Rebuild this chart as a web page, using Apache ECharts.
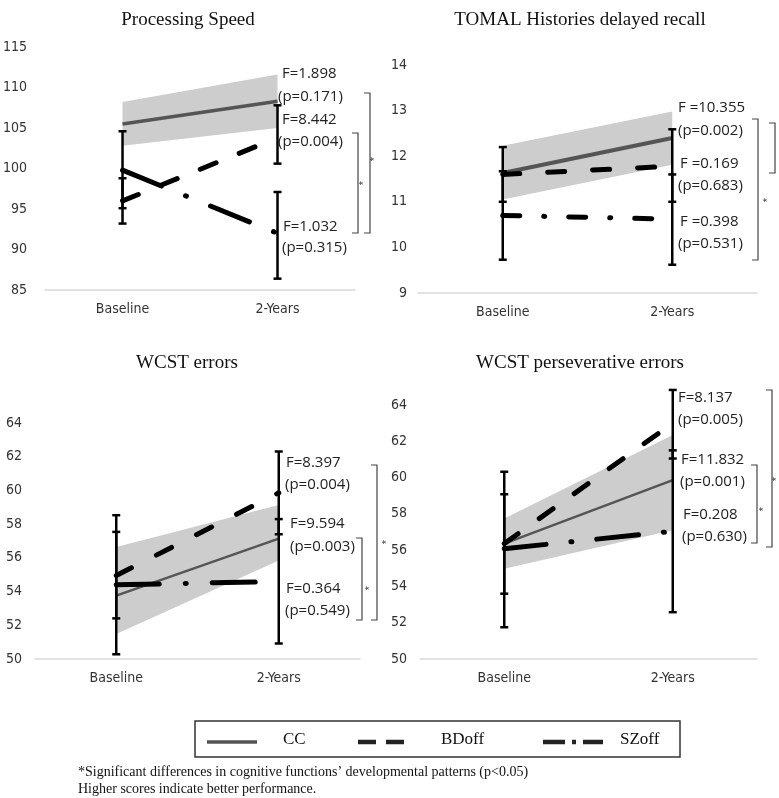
<!DOCTYPE html>
<html lang="en">

<head>
    <meta charset="UTF-8">
    <title>Cognitive functions</title>
    <style>
        * {
            margin: 0;
            padding: 0;
        }

        html,
        body {
            width: 779px;
            height: 798px;
            background: #fff;
        }

        #main {
            width: 779px;
            height: 798px;
        }
    </style>
</head>

<body>
    <div id="main"></div>
</body>
<script src="https://cdn.jsdelivr.net/npm/echarts@6/dist/echarts.min.js"></script>
<script>
    // categories
    const categories = ['Baseline', '2-Years']

    // Processing Speed
    const speedCC = [105.5, 108.3]
    const speedBandLow = [102.8, 105.0]
    const speedBandHigh = [108.2, 111.6]
    const speedBD = [96.0, 103.8]
    const speedBDErr = [[93.2, 98.8], [100.6, 107.8]]
    const speedSZ = [99.8, 92.0]
    const speedSZErr = [[95.1, 104.6], [86.4, 97.1]]
    const speedStats = ['F=1.898', '(p=0.171)', 'F=8.442', '(p=0.004)', 'F=1.032', '(p=0.315)']

    // TOMAL Histories delayed recall
    const tomalCC = [11.63, 12.4]
    const tomalBandLow = [11.05, 11.81]
    const tomalBandHigh = [12.23, 12.98]
    const tomalBD = [11.6, 11.78]
    const tomalBDErr = [[11.0, 12.2], [11.0, 12.59]]
    const tomalSZ = [10.7, 10.62]
    const tomalSZErr = [[9.73, 11.67], [9.62, 11.6]]
    const tomalStats = ['F =10.355', '(p=0.002)', 'F =0.169', '(p=0.683)', 'F =0.398', '(p=0.531)']

    // WCST errors
    const wcstCC = [53.76, 57.14]
    const wcstBandLow = [51.48, 55.85]
    const wcstBandHigh = [56.64, 59.13]
    const wcstBD = [54.95, 59.86]
    const wcstBDErr = [[52.41, 57.54], [57.4, 62.31]]
    const wcstSZ = [54.4, 54.6]
    const wcstSZErr = [[50.28, 58.53], [50.92, 58.3]]
    const wcstStats = ['F=8.397', '(p=0.004)', 'F=9.594', '(p=0.003)', 'F=0.364', '(p=0.549)']

    // WCST perseverative errors
    const persCC = [56.36, 59.86]
    const persBandLow = [54.98, 57.1]
    const persBandHigh = [57.74, 62.34]
    const persBD = [56.36, 63.0]
    const persBDErr = [[53.6, 59.08], [61.05, 64.83]]
    const persSZ = [56.08, 57.04]
    const persSZErr = [[51.75, 60.32], [52.58, 61.5]]
    const persStats = ['F=8.137', '(p=0.005)', 'F=11.832', '(p=0.001)', 'F=0.208', '(p=0.630)']

    const legendNames = ['CC', 'BDoff', 'SZoff']
    const footnotes = [
        '*Significant differences in cognitive functions\u2019 developmental patterns (p<0.05)',
        'Higher scores indicate better performance.'
    ]

    const axisFont = '"DejaVu Sans Condensed", "Liberation Sans", sans-serif'

    const panels = [{
        title: 'Processing Speed', tx: 188, ty: 20,
        grid: { left: 40, right: 424, top: 47, bottom: 508 },
        yMin: 85, yMax: 115, step: 5, labelMargin: 18,
        cc: speedCC, lo: speedBandLow, hi: speedBandHigh,
        bd: speedBD, bdErr: speedBDErr, sz: speedSZ, szErr: speedSZErr,
        ccWidth: 3.5, bdDash: [17, 25], szDash: [42, 26, 1, 26],
        stats: speedStats,
        statPos: [[282, 74], [278, 97], [282, 120], [278, 142], [283, 227], [282, 248]],
        brackets: [[370, 93, 233], [358, 133, 233]],
        stars: [[375, 159], [364, 183]]
    }, {
        title: 'TOMAL Histories delayed recall', tx: 580, ty: 20,
        grid: { left: 418, right: 22, top: 65, bottom: 505 },
        yMin: 9, yMax: 14, step: 1, labelMargin: 11,
        cc: tomalCC, lo: tomalBandLow, hi: tomalBandHigh,
        bd: tomalBD, bdErr: tomalBDErr, sz: tomalSZ, szErr: tomalSZErr,
        ccWidth: 4, bdDash: [17, 28], szDash: [17, 24, 1, 24],
        stats: tomalStats,
        statPos: [[678, 108], [678, 131], [680, 164], [678, 186], [680, 222], [678, 244]],
        brackets: [[758, 119, 260], [775, 123, 173]],
        stars: [[768, 200]]
    }, {
        title: 'WCST errors', tx: 187, ty: 363,
        grid: { left: 35, right: 419, top: 423, bottom: 139 },
        yMin: 50, yMax: 64, step: 2, labelMargin: 13,
        cc: wcstCC, lo: wcstBandLow, hi: wcstBandHigh,
        bd: wcstBD, bdErr: wcstBDErr, sz: wcstSZ, szErr: wcstSZErr,
        ccWidth: 2.5, bdDash: [17, 28], szDash: [43, 26, 1, 26],
        stats: wcstStats,
        statPos: [[286, 463], [285, 485], [290, 524], [290, 547], [286, 589], [285, 611]],
        brackets: [[362, 538, 620], [377, 465, 620]],
        stars: [[370, 588], [387, 542]]
    }, {
        title: 'WCST perseverative errors', tx: 580, ty: 363,
        grid: { left: 420, right: 22, top: 405, bottom: 139 },
        yMin: 50, yMax: 64, step: 2, labelMargin: 13,
        cc: persCC, lo: persBandLow, hi: persBandHigh,
        bd: persBD, bdErr: persBDErr, sz: persSZ, szErr: persSZErr,
        ccWidth: 2.5, bdDash: [17, 26], szDash: [42, 25, 1, 25],
        stats: persStats,
        statPos: [[678, 398], [678, 420], [681, 460], [680, 482], [683, 515], [682, 537]],
        brackets: [[757, 465, 543], [772, 390, 547]],
        stars: [[764, 509], [777, 479]]
    }]

    // grey confidence band between the two categories
    function bandItem(params, api) {
        if (params.dataIndexInside !== 0) return { type: 'group', children: [] }
        const pts = []
        for (let k = 0; k < 2; k++) pts.push(api.coord([api.value(0, k), api.value(2, k)]))
        for (let k = 1; k >= 0; k--) pts.push(api.coord([api.value(0, k), api.value(1, k)]))
        return { type: 'polygon', shape: { points: pts }, style: { fill: '#cdcdcd' } }
    }

    // vertical error bar with caps
    function errItem(params, api) {
        const top = api.coord([api.value(0), api.value(2)])
        const bot = api.coord([api.value(0), api.value(1)])
        const w = 4
        const st = { stroke: '#000', lineWidth: 2.5 }
        return {
            type: 'group',
            children: [
                { type: 'line', shape: { x1: top[0], y1: top[1], x2: bot[0], y2: bot[1] }, style: st },
                { type: 'line', shape: { x1: top[0] - w, y1: top[1], x2: top[0] + w, y2: top[1] }, style: st },
                { type: 'line', shape: { x1: bot[0] - w, y1: bot[1], x2: bot[0] + w, y2: bot[1] }, style: st }
            ]
        }
    }

    const grid = [], xAxis = [], yAxis = [], series = [], graphic = []

    panels.forEach(function (p, i) {
        grid.push(p.grid)
        xAxis.push({
            type: 'category',
            gridIndex: i,
            data: categories,
            axisLine: { lineStyle: { color: '#d9d9d9', width: 1.5 } },
            axisTick: { show: false },
            axisLabel: {
                color: '#333',
                fontSize: 14,
                fontFamily: axisFont,
                margin: 12
            }
        })
        yAxis.push({
            type: 'value',
            gridIndex: i,
            min: p.yMin,
            max: p.yMax,
            interval: p.step,
            axisLine: { show: false },
            axisTick: { show: false },
            splitLine: { show: false },
            axisLabel: {
                color: '#333',
                fontSize: 14,
                fontFamily: axisFont,
                margin: p.labelMargin
            }
        })

        series.push({
            type: 'custom',
            xAxisIndex: i,
            yAxisIndex: i,
            z: 1,
            silent: true,
            renderItem: bandItem,
            encode: { x: 0, y: [1, 2] },
            data: categories.map(function (c, k) { return [c, p.lo[k], p.hi[k]] })
        })
        series.push({
            name: legendNames[0],
            type: 'line',
            xAxisIndex: i,
            yAxisIndex: i,
            z: 2,
            silent: true,
            symbol: 'none',
            lineStyle: { color: '#555', width: p.ccWidth },
            data: p.cc
        })
        series.push({
            name: legendNames[1],
            type: 'line',
            xAxisIndex: i,
            yAxisIndex: i,
            z: 3,
            silent: true,
            symbol: 'none',
            lineStyle: { color: '#000', width: 5, type: p.bdDash, cap: 'round' },
            data: p.bd
        })
        series.push({
            name: legendNames[2],
            type: 'line',
            xAxisIndex: i,
            yAxisIndex: i,
            z: 3,
            silent: true,
            symbol: 'none',
            lineStyle: { color: '#000', width: 5, type: p.szDash, cap: 'round' },
            data: p.sz
        })
        series.push({
            type: 'custom',
            xAxisIndex: i,
            yAxisIndex: i,
            z: 4,
            silent: true,
            renderItem: errItem,
            encode: { x: 0, y: [1, 2] },
            data: categories.map(function (c, k) { return [c, p.bdErr[k][0], p.bdErr[k][1]] })
                .concat(categories.map(function (c, k) { return [c, p.szErr[k][0], p.szErr[k][1]] }))
        })

        // title
        graphic.push({
            type: 'text', x: p.tx, y: p.ty,
            style: {
                text: p.title, font: '19px "Liberation Serif", serif', fill: '#111',
                textAlign: 'center', textVerticalAlign: 'middle'
            }
        })
        // F / p statistics
        p.stats.forEach(function (s, k) {
            graphic.push({
                type: 'text', x: p.statPos[k][0], y: p.statPos[k][1],
                style: {
                    text: s, font: '15px "Open Sans", sans-serif', fill: '#222',
                    textAlign: 'left', textVerticalAlign: 'middle'
                }
            })
        })
        // significance brackets
        p.brackets.forEach(function (b) {
            graphic.push({
                type: 'polyline',
                shape: { points: [[b[0] - 6, b[1]], [b[0], b[1]], [b[0], b[2]], [b[0] - 6, b[2]]] },
                style: { stroke: '#444', lineWidth: 1.2, fill: null }
            })
        })
        p.stars.forEach(function (s) {
            graphic.push({
                type: 'text', x: s[0], y: s[1], rotation: Math.PI / 2,
                style: {
                    text: '*', font: '11px "Liberation Sans", sans-serif', fill: '#333',
                    textAlign: 'center', textVerticalAlign: 'middle'
                }
            })
        })
    })

    // legend box
    graphic.push({
        type: 'rect', shape: { x: 195, y: 721, width: 485, height: 36 },
        style: { fill: null, stroke: '#333', lineWidth: 1.5 }
    })
    const legendLines = [
        { x1: 207, x2: 257, color: '#555', width: 3.5, dash: null, tx: 283 },
        { x1: 358, x2: 405, color: '#222', width: 4.5, dash: [18, 10], tx: 441 },
        { x1: 543, x2: 603, color: '#222', width: 4.5, dash: [22, 7, 4, 7, 22], tx: 620 }
    ]
    legendLines.forEach(function (l, k) {
        graphic.push({
            type: 'line', shape: { x1: l.x1, y1: 742, x2: l.x2, y2: 742 },
            style: { stroke: l.color, lineWidth: l.width, lineDash: l.dash }
        })
        graphic.push({
            type: 'text', x: l.tx, y: 740,
            style: {
                text: legendNames[k], font: '17px "Liberation Serif", serif', fill: '#111',
                textAlign: 'left', textVerticalAlign: 'middle'
            }
        })
    })
    footnotes.forEach(function (t, k) {
        graphic.push({
            type: 'text', x: 78, y: 772 + k * 17,
            style: {
                text: t, font: '14px "Liberation Serif", serif', fill: '#111',
                textAlign: 'left', textVerticalAlign: 'middle'
            }
        })
    })

    const chart = echarts.init(document.getElementById('main'))
    chart.setOption({
        animation: false,
        backgroundColor: '#fff',
        grid: grid,
        xAxis: xAxis,
        yAxis: yAxis,
        series: series,
        graphic: graphic
    })
</script>

</html>
